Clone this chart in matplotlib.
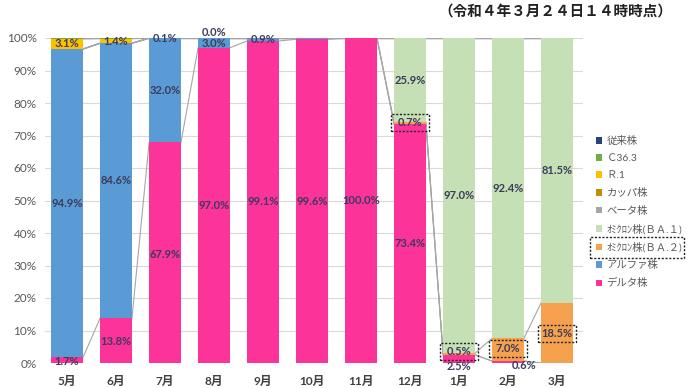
import matplotlib
matplotlib.use("Agg")
import matplotlib.pyplot as plt
from matplotlib.patches import Rectangle, Patch
import numpy as np

plt.rcParams['font.family'] = ['Lato', 'Noto Sans CJK JP', 'DejaVu Sans']

months = ["5月", "6月", "7月", "8月", "9月", "10月", "11月", "12月", "1月", "2月", "3月"]

# stacking order bottom -> top
delta  = [1.7, 13.8, 67.9, 97.0, 99.1, 99.6, 100.0, 73.4, 2.5, 0.6, 0.0]
alpha  = [94.9, 84.6, 32.0, 3.0, 0.9, 0.4, 0.0, 0.0, 0.0, 0.0, 0.0]
ba2    = [0.0, 0.0, 0.0, 0.0, 0.0, 0.0, 0.0, 0.7, 0.5, 7.0, 18.5]
ba1    = [0.0, 0.0, 0.0, 0.0, 0.0, 0.0, 0.0, 25.9, 97.0, 92.4, 81.5]
beta   = [0.0, 0.0, 0.1, 0.0, 0.0, 0.0, 0.0, 0.0, 0.0, 0.0, 0.0]
kappa  = [0.0, 0.0, 0.0, 0.0, 0.0, 0.0, 0.0, 0.0, 0.0, 0.0, 0.0]
r1     = [3.1, 1.4, 0.0, 0.0, 0.0, 0.0, 0.0, 0.0, 0.0, 0.0, 0.0]
c363   = [0.3, 0.2, 0.0, 0.0, 0.0, 0.0, 0.0, 0.0, 0.0, 0.0, 0.0]
legacy = [0.0, 0.0, 0.0, 0.0, 0.0, 0.0, 0.0, 0.0, 0.0, 0.0, 0.0]

series_names = ["デルタ株", "アルファ株", "ｵﾐｸﾛﾝ株(ＢＡ.２)", "ｵﾐｸﾛﾝ株(ＢＡ.１)",
                "ベータ株", "カッパ株", "Ｒ.1", "Ｃ36.3", "従来株"]
series_vals = [delta, alpha, ba2, ba1, beta, kappa, r1, c363, legacy]
colors = ["#FC3398", "#5B9BD5", "#F5A14E", "#C5E0B4", "#A5A5A5",
          "#BF9000", "#FFC000", "#70AD47", "#264478"]

yticks = [0, 10, 20, 30, 40, 50, 60, 70, 80, 90, 100]
title = "（令和４年３月２４日１４時時点）"

# labels: (month index, series index, text value, y position or None=center, x offset)
labels = [
    (0, 0, 1.7, 0.4, 0), (0, 1, 94.9, None, 0), (0, 6, 3.1, 98.2, 0),
    (1, 0, 13.8, 6.6, 0), (1, 1, 84.6, None, 0), (1, 6, 1.4, 99.0, 0),
    (2, 0, 67.9, 33.5, 0), (2, 1, 32.0, None, 0), (2, 4, 0.1, 99.7, 0),
    (3, 0, 97.0, None, 0), (3, 1, 3.0, 98.4, 0), (3, 8, 0.0, 101.6, 0),
    (4, 0, 99.1, None, 0), (4, 1, 0.9, 99.4, 0),
    (5, 0, 99.6, None, 0),
    (6, 0, 100.0, None, 0),
    (7, 0, 73.4, None, 0), (7, 2, 0.7, 73.9, 0), (7, 3, 25.9, None, 0),
    (8, 0, 2.5, -1.0, 0), (8, 2, 0.5, 3.5, 0), (8, 3, 97.0, None, 0),
    (9, 0, 0.6, -0.7, 0.33), (9, 2, 7.0, 4.6, 0), (9, 3, 92.4, None, 0),
    (10, 2, 18.5, 9.0, 0), (10, 3, 81.5, None, 0),
]
boxed = [(7, 2), (8, 2), (9, 2), (10, 2)]

fig = plt.figure(figsize=(6.9, 3.88), dpi=100)
ax = fig.add_axes([45/690, 1-363/388, (583-45)/690, (363-38)/388])

x = np.arange(len(months))
w = 0.65
data = np.array(series_vals)
bottoms = np.vstack([np.zeros(len(months)), np.cumsum(data, axis=0)[:-1]])
tops = np.cumsum(data, axis=0)

for i in range(len(series_vals)):
    ax.bar(x, data[i], w, bottom=bottoms[i], color=colors[i], zorder=3,
           label=series_names[i])

# series lines
for i in range(len(series_vals)):
    for j in range(len(months)-1):
        ax.plot([x[j]+w/2, x[j+1]-w/2], [tops[i][j], tops[i][j+1]],
                color="#A6A6A6", lw=0.8, zorder=2)

lab_color = "#3B3B5C"
for (m, s, v, ypos, dx) in labels:
    yy = bottoms[s][m] + data[s][m]/2 if ypos is None else ypos
    ax.text(x[m]+dx, yy, f"{v:.1f}%", ha="center", va="center",
            fontsize=8, fontweight="bold", color=lab_color, zorder=6)
    if (m, s) in boxed:
        ax.add_patch(Rectangle((x[m]-0.39, yy-2.6), 0.78, 5.2, fill=False,
                               ls=(0, (1.5, 1.2)), lw=1.0, ec="#222222",
                               zorder=7, clip_on=False))

ax.set_xlim(-0.45, 10.53)
ax.set_ylim(0, 100)
ax.set_yticks(yticks)
ax.set_yticklabels([f"{t}%" for t in yticks], fontsize=8.5, color="#595959")
ax.set_xticks(x)
ax.set_xticklabels(months, fontsize=8.5, fontweight="bold", color="#404040")
ax.tick_params(length=0, pad=6)
ax.tick_params(axis='x', pad=9)
ax.grid(axis="y", color="#D9D9D9", lw=0.8, zorder=0)
for sp in ax.spines.values():
    sp.set_visible(False)

handles = [Patch(facecolor=colors[i], label=series_names[i]) for i in range(len(colors))][::-1]
leg = fig.legend(handles=handles, loc="upper left",
                 bbox_to_anchor=(592/690, 1-132/388), frameon=False,
                 fontsize=7.5, handlelength=0.6, handleheight=0.6,
                 handletextpad=0.4, labelspacing=0.76, borderaxespad=0)
for t in leg.get_texts():
    t.set_color("#595959")
fig.patches.append(Rectangle((590/690, 1-258/388), 94/690, 21/388, fill=False,
                             ls=(0, (1.5, 1.2)), lw=1.0, ec="#222222",
                             transform=fig.transFigure))

fig.text(555/690, 1-12/388, title, ha="center", va="center", fontsize=10.5,
         fontweight="bold", color="#222222")

fig.savefig("out.png", dpi=100)
